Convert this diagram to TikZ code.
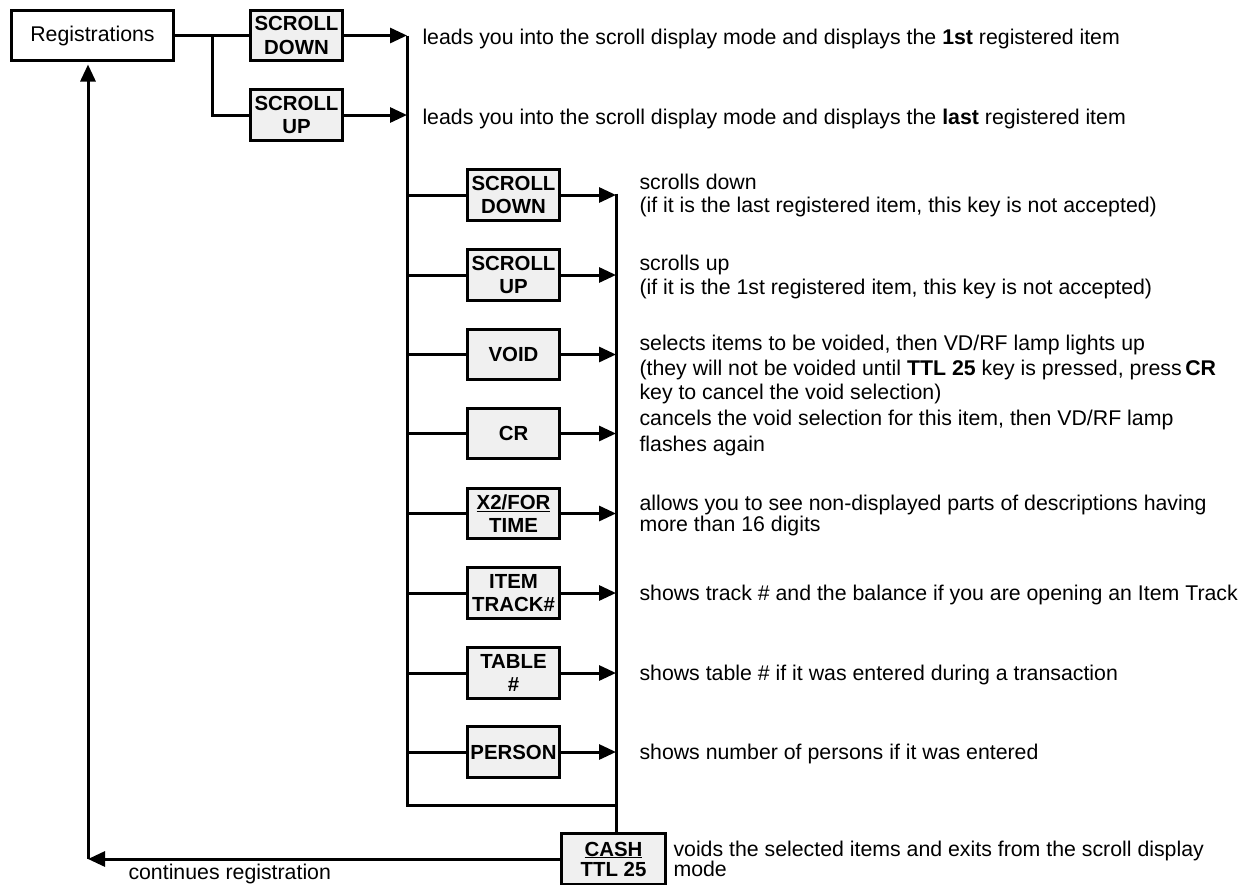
\documentclass[tikz,border=0pt]{standalone}
\usepackage{fontspec}
\setmainfont{Liberation Sans}
\usetikzlibrary{arrows.meta}
\definecolor{keyfill}{HTML}{F0F0F0}
\begin{document}
\begin{tikzpicture}[x=1pt,y=-1pt,
  line width=3pt,
  keybox/.style={draw, fill=keyfill, minimum width=92pt, minimum height=50.5pt, inner sep=0pt, align=center, font=\fontsize{20.4}{23.5}\selectfont\bfseries},
  regbox/.style={draw, fill=white, minimum width=162pt, minimum height=50pt, inner sep=0pt, font=\fontsize{21.3}{23.5}\selectfont},
  desc/.style={anchor=west, inner sep=0pt, align=left, font=\fontsize{21.3}{23.5}\selectfont},
  arr/.style={-{Triangle[length=17pt,width=15pt]}}
]
\useasboundingbox (0,0) rectangle (1252,884);

% top level
\node[regbox] (reg) at (92.5,35.5) {Registrations};
\node[keybox] (sd) at (296.5,35.5) {SCROLL\\DOWN};
\node[keybox] (su) at (296.5,115) {SCROLL\\UP};
\coordinate (br) at (212,35.5);
\coordinate (l1) at (407,35.5);
\coordinate (l2) at (407,115);

% inner keys
\node[keybox] (k1) at (513.5,195) {SCROLL\\DOWN};
\node[keybox] (k2) at (513.5,275) {SCROLL\\UP};
\node[keybox] (k3) at (513.5,354.5) {VOID};
\node[keybox] (k4) at (513.5,433.5) {CR};
\node[keybox] (k5) at (513.5,513.5) {\underline{X2/FOR}\\TIME};
\node[keybox] (k6) at (513.5,593) {ITEM\\TRACK\#};
\node[keybox] (k7) at (513.5,673) {TABLE\\\#};
\node[keybox] (k8) at (513.5,752) {PERSON};

\foreach \i/\y in {1/195,2/275,3/354.5,4/433.5,5/513.5,6/593,7/673,8/752}{
  \coordinate (L\i) at (407,\y);
  \coordinate (R\i) at (616,\y);
}
\coordinate (lb) at (407,805);
\coordinate (rb) at (616,805);
\coordinate (rt) at (616,193.5);

\node[keybox, minimum width=104pt, minimum height=51pt, font=\fontsize{20.4}{20}\selectfont\bfseries] (cash) at (613.5,859) {\underline{CASH}\\TTL 25};
\coordinate (ret) at (88,859);

% connectors
\draw (reg.east) -- (sd.west);
\draw (br) |- (su.west);
\draw[arr] (sd.east) -- (l1);
\draw[arr] (su.east) -- (l2);
\draw (l1) -- (lb) -- (rb);
\draw (rt) -- (cash.north -| rt);
\foreach \i in {1,...,8}{
  \draw (L\i) -- (k\i.west);
  \draw[arr] (k\i.east) -- (R\i);
}
\draw[arr] (cash.west) -- (ret);
\draw[arr, shorten >=2.5pt] (ret) -- (reg.south -| ret);

% descriptions
\node[desc] (t1) at (421,39) {leads you into the scroll display mode and displays the \textbf{1st} registered item};
\node[desc] (t2) at (421,119) {leads you into the scroll display mode and displays the \textbf{last} registered item};
\node[desc] (d1) at (638,195.5) {scrolls down\\(if it is the last registered item, this key is not accepted)};
\node[desc] (d2) at (638,277) {scrolls up\\(if it is the 1st registered item, this key is not accepted)};
\node[desc, font=\fontsize{21.3}{24.5}\selectfont] (d3) at (638,369.5) {selects items to be voided, then VD/RF lamp lights up\\(they will not be voided until \textbf{TTL 25} key is pressed, press\,\textbf{CR}\\key to cancel the void selection)};
\node[desc, font=\fontsize{21.3}{26}\selectfont] (d4) at (638,433) {cancels the void selection for this item, then VD/RF lamp\\flashes again};
\node[desc, font=\fontsize{21.3}{21}\selectfont] (d5) at (638,515) {allows you to see non-displayed parts of descriptions having\\more than 16 digits};
\node[desc] (d6) at (638,595) {shows track \# and the balance if you are opening an Item Track};
\node[desc] (d7) at (638,675) {shows table \# if it was\hspace{6pt}entered during a transaction};
\node[desc] (d8) at (638,754) {shows number of persons if it was entered};
\node[desc, font=\fontsize{21.3}{20.5}\selectfont] (d9) at (672,859) {voids the selected items and exits from the scroll display\\mode};
\node[desc] (d10) at (127,874) {continues registration};
\end{tikzpicture}
\end{document}
